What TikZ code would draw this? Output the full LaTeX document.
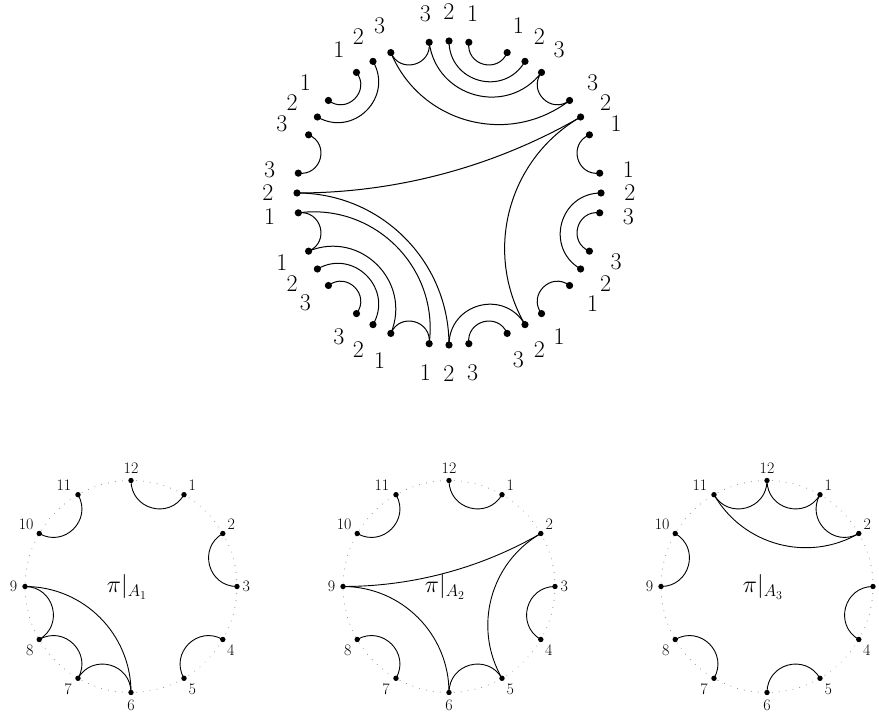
\RequirePackage{fix-cm}
\documentclass[tikz,border=0pt]{standalone}
\usepackage{amsmath}
\usetikzlibrary{calc}
\pgfmathdeclarefunction{tang}{2}{\pgfmathparse{90-30*#1+(1-2*mod(#1,2))*(#2-2)*7.5}}
% geodesic (circle orthogonal to the boundary circle) between two points
\newcommand\geoarc[6]{%
  \pgfmathsetmacro\geoT{abs((#3)-(#4))}%
  \pgfmathsetmacro\geoT{\geoT>180 ? 360-\geoT : \geoT}%
  \pgfmathsetmacro\geoD{4/3*tan(45-\geoT/4)*#5*tan(\geoT/2)}%
  \pgfmathsetmacro\geoO{#3+180}%
  \pgfmathsetmacro\geoI{#4+180}%
  \draw[#6] (#1.center) to[out=\geoO,in=\geoI,distance=\geoD pt] (#2.center);%
}
\newcommand\tgeo[4]{%
  \pgfmathsetmacro\geoA{tang(#1,#2)}%
  \pgfmathsetmacro\geoB{tang(#3,#4)}%
  \geoarc{t#1-#2}{t#3-#4}{\geoA}{\geoB}{152}{toparc}%
}
\newcommand\bgeo[3]{%
  \pgfmathsetmacro\geoA{90-30*#2}%
  \pgfmathsetmacro\geoB{90-30*#3}%
  \geoarc{b#1-#2}{b#1-#3}{\geoA}{\geoB}{106}{botarc}%
}
\begin{document}
\begin{tikzpicture}[x=1pt,y=1pt,
  bigdot/.style={circle,fill=black,inner sep=0pt,minimum size=7.2pt},
  smalldot/.style={circle,fill=black,inner sep=0pt,minimum size=5.4pt},
  biglab/.style={inner sep=0pt,font=\fontsize{24}{28}\selectfont},
  smalllab/.style={inner sep=0pt,font=\fontsize{16}{19}\selectfont},
  pilab/.style={inner sep=0pt,font=\fontsize{24}{28}\selectfont},
  toparc/.style={line width=1pt},
  botarc/.style={line width=0.9pt},
  dotcircle/.style={gray,line width=1pt,dash pattern=on 0.01pt off 7pt,line cap=round}]
\useasboundingbox (0,0) rectangle (879,713);
% ---------------- top diagram ----------------
\coordinate (TC) at (449,520);
\foreach \g in {0,...,11}{
  \foreach \l in {1,2,3}{
    \pgfmathsetmacro\ang{tang(\g,\l)}
    \node[bigdot] (t\g-\l) at ($(TC)+(\ang:152)$) {};
    \node[biglab] (tl\g-\l) at ($(TC)+(\ang:181)$) {\l};
  }
}
% label 1 blocks
\tgeo{0}{1}{1}{1}
\tgeo{10}{1}{11}{1}
\tgeo{2}{1}{3}{1}
\tgeo{4}{1}{5}{1}
\tgeo{9}{1}{8}{1}
\tgeo{8}{1}{7}{1}
\tgeo{7}{1}{6}{1}
\tgeo{6}{1}{9}{1}
% label 2 blocks
\tgeo{0}{2}{1}{2}
\tgeo{10}{2}{11}{2}
\tgeo{3}{2}{4}{2}
\tgeo{7}{2}{8}{2}
\tgeo{2}{2}{9}{2}
\tgeo{9}{2}{6}{2}
\tgeo{6}{2}{5}{2}
\tgeo{5}{2}{2}{2}
% label 3 blocks
\tgeo{11}{3}{0}{3}
\tgeo{0}{3}{1}{3}
\tgeo{1}{3}{2}{3}
\tgeo{11}{3}{2}{3}
\tgeo{9}{3}{10}{3}
\tgeo{3}{3}{4}{3}
\tgeo{7}{3}{8}{3}
\tgeo{5}{3}{6}{3}
% ---------------- bottom diagrams ----------------
\foreach \c/\cx in {1/131,2/449,3/767}{
  \coordinate (C\c) at (\cx,126.5);
  \draw[dotcircle] (C\c) circle[radius=106pt];
  \foreach \n in {1,...,12}{
    \pgfmathsetmacro\ang{90-30*\n}
    \node[smalldot] (b\c-\n) at ($(C\c)+(\ang:106)$) {};
  }
  \foreach \n/\anc/\ox/\oy in {12/south/0/7, 1/south west/4.5/4, 2/south west/4.5/4,
      3/west/5.5/0, 4/north west/4/-5.5, 5/north west/4.5/-5, 6/north/0/-7.5,
      7/north east/-6/-5, 8/north east/-5.5/-5.5, 9/east/-7.5/0,
      10/south east/-5.5/3.5, 11/south east/-6.5/4}{
    \node[smalllab,anchor=\anc] (bl\c-\n) at ($(b\c-\n.center)+(\ox,\oy)$) {\n};
  }
}
\node[pilab,anchor=base] (pi1) at ($(C1)+(-4,-6.5)$) {$\pi|_{A_1}$};
\node[pilab,anchor=base] (pi2) at ($(C2)+(-4,-6.5)$) {$\pi|_{A_2}$};
\node[pilab,anchor=base] (pi3) at ($(C3)+(-4,-6.5)$) {$\pi|_{A_3}$};
% pi|A1
\bgeo{1}{12}{1}
\bgeo{1}{10}{11}
\bgeo{1}{2}{3}
\bgeo{1}{4}{5}
\bgeo{1}{9}{8}
\bgeo{1}{8}{7}
\bgeo{1}{7}{6}
\bgeo{1}{6}{9}
% pi|A2
\bgeo{2}{12}{1}
\bgeo{2}{10}{11}
\bgeo{2}{3}{4}
\bgeo{2}{7}{8}
\bgeo{2}{2}{9}
\bgeo{2}{9}{6}
\bgeo{2}{6}{5}
\bgeo{2}{5}{2}
% pi|A3
\bgeo{3}{11}{12}
\bgeo{3}{12}{1}
\bgeo{3}{1}{2}
\bgeo{3}{11}{2}
\bgeo{3}{9}{10}
\bgeo{3}{3}{4}
\bgeo{3}{7}{8}
\bgeo{3}{5}{6}
\end{tikzpicture}
\end{document}
